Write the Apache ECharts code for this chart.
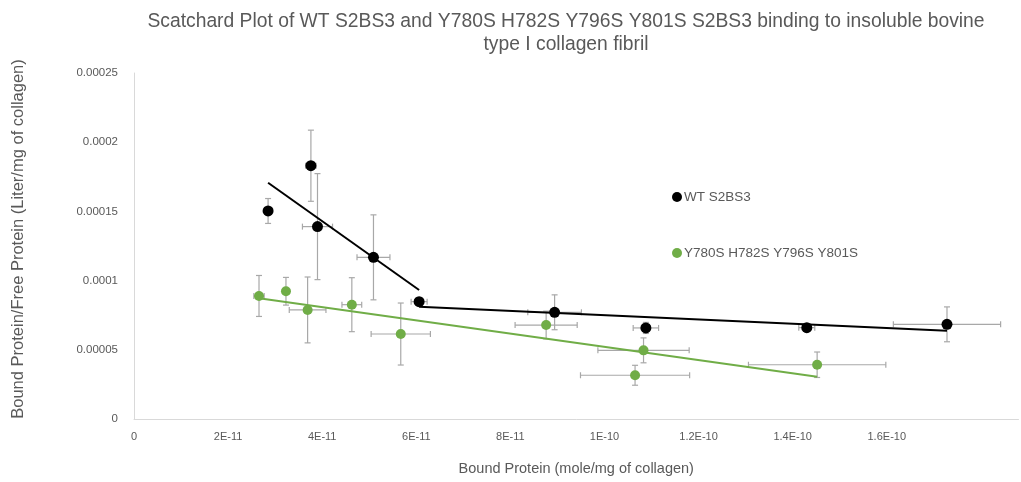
<!DOCTYPE html>
<html>
<head>
<meta charset="utf-8">
<script src="https://cdn.jsdelivr.net/npm/echarts@6/dist/echarts.min.js"></script>
<style>
  html, body { margin: 0; padding: 0; background: #ffffff; }
  #chart { width: 1021px; height: 482px; }
</style>
</head>
<body>
<div id="chart"></div>
<script>
// Tick labels
const xTickLabels = ['0', '2E-11', '4E-11', '6E-11', '8E-11', '1E-10', '1.2E-10', '1.4E-10', '1.6E-10'];
const yTickLabels = ['0', '0.00005', '0.0001', '0.00015', '0.0002', '0.00025'];

// Series names
const seriesNames = ['WT S2BS3', 'Y780S H782S Y796S Y801S'];

// WT S2BS3: bound protein (x), bound/free (y), and their error half-widths
const wtX    = [2.85e-11, 3.76e-11, 3.90e-11, 5.09e-11, 6.06e-11, 8.94e-11, 1.088e-10, 1.43e-10, 1.728e-10];
const wtY    = [1.503e-4, 1.830e-4, 1.390e-4, 1.168e-4, 8.48e-5, 7.71e-5, 6.58e-5, 6.60e-5, 6.84e-5];
const wtXErr = [0.6e-12, 1.1e-12, 3.2e-12, 3.5e-12, 1.7e-12, 5.7e-12, 2.7e-12, 1.7e-12, 1.14e-11];
const wtYErr = [9.0e-6, 2.57e-5, 3.83e-5, 3.07e-5, 2.5e-6, 1.26e-5, 4.0e-6, 2.0e-6, 1.26e-5];

// Y780S H782S Y796S Y801S mutant
const mutX    = [2.657e-11, 3.23e-11, 3.69e-11, 4.63e-11, 5.67e-11, 8.76e-11, 1.083e-10, 1.065e-10, 1.452e-10];
const mutY    = [8.89e-5, 9.23e-5, 7.88e-5, 8.26e-5, 6.14e-5, 6.79e-5, 4.96e-5, 3.16e-5, 3.92e-5];
const mutXErr = [1.1e-12, 0.5e-12, 3.9e-12, 2.1e-12, 6.3e-12, 6.6e-12, 9.7e-12, 1.16e-11, 1.46e-11];
const mutYErr = [1.48e-5, 1.0e-5, 2.38e-5, 1.95e-5, 2.24e-5, 1.0e-5, 9.0e-6, 7.2e-6, 9.2e-6];

// Linear fit segments (end points)
const wtFitHigh = [[2.85e-11, 1.707e-4], [6.06e-11, 9.32e-5]];
const wtFitLow  = [[6.06e-11, 8.11e-5], [1.728e-10, 6.38e-5]];
const mutFit    = [[2.657e-11, 8.72e-5], [1.452e-10, 3.06e-5]];

const FONT = '"Liberation Sans", Arial, sans-serif';
const TEXT = '#595959';
const BLACK = '#000000';
const GREEN = '#70ad47';
const ERR = '#a8a8a8';

function zip(xs, ys) { return xs.map((x, i) => [x, ys[i]]); }
function zipErr(xs, ys, xe, ye) { return xs.map((x, i) => [x, ys[i], xe[i], ye[i]]); }

function renderErrorBars(params, api) {
  const x = api.value(0), y = api.value(1), xe = api.value(2), ye = api.value(3);
  const c = api.coord([x, y]);
  const l = api.coord([x - xe, y]);
  const r = api.coord([x + xe, y]);
  const t = api.coord([x, y + ye]);
  const b = api.coord([x, y - ye]);
  const cap = 3;
  const style = { stroke: ERR, lineWidth: 1.2, fill: null };
  const children = [
    { type: 'line', shape: { x1: l[0], y1: c[1], x2: r[0], y2: c[1] }, style },
    { type: 'line', shape: { x1: l[0], y1: c[1] - cap, x2: l[0], y2: c[1] + cap }, style },
    { type: 'line', shape: { x1: r[0], y1: c[1] - cap, x2: r[0], y2: c[1] + cap }, style },
    { type: 'line', shape: { x1: c[0], y1: t[1], x2: c[0], y2: b[1] }, style },
    { type: 'line', shape: { x1: c[0] - cap, y1: t[1], x2: c[0] + cap, y2: t[1] }, style },
    { type: 'line', shape: { x1: c[0] - cap, y1: b[1], x2: c[0] + cap, y2: b[1] }, style }
  ];
  return { type: 'group', children };
}

const chart = echarts.init(document.getElementById('chart'));
chart.setOption({
  animation: false,
  backgroundColor: '#ffffff',
  textStyle: { fontFamily: FONT },
  graphic: [
    {
      type: 'text',
      style: {
        x: 566, y: 10.5,
        text: 'Scatchard Plot of WT S2BS3 and Y780S H782S Y796S Y801S S2BS3 binding to insoluble bovine\ntype I collagen fibril',
        align: 'center', verticalAlign: 'top', fill: TEXT, font: '19.3px ' + FONT, lineHeight: 23
      }
    },
    {
      type: 'text',
      x: 18, y: 239, rotation: Math.PI / 2,
      style: {
        x: 0, y: 0,
        text: 'Bound Protein/Free Protein (Liter/mg of collagen)',
        align: 'center', verticalAlign: 'middle', fill: TEXT, font: '16.5px ' + FONT
      }
    }
  ],
  legend: {
    data: seriesNames,
    orient: 'vertical',
    left: 672,
    top: 190,
    padding: 0,
    itemGap: 42,
    itemWidth: 10,
    itemHeight: 10,
    icon: 'circle',
    textStyle: { color: TEXT, fontSize: 13.5, fontFamily: FONT, padding: [0, 0, 0, -3] }
  },
  grid: { left: 134, top: 73, right: 2.5, bottom: 63 },
  xAxis: {
    type: 'value',
    min: 0,
    max: 1.88e-10,
    interval: 2e-11,
    name: 'Bound Protein (mole/mg of collagen)',
    nameLocation: 'middle',
    nameGap: 42,
    nameTextStyle: { color: TEXT, fontSize: 14.5, fontFamily: FONT },
    axisLine: { lineStyle: { color: '#d9d9d9', width: 1 } },
    axisTick: { show: false },
    splitLine: { show: false },
    axisLabel: {
      color: TEXT, fontSize: 11, margin: 12, showMaxLabel: false,
      formatter: v => xTickLabels[Math.round(v / 2e-11)] || ''
    }
  },
  yAxis: {
    type: 'value',
    min: 0,
    max: 2.5e-4,
    interval: 5e-5,
    axisLine: { show: true, lineStyle: { color: '#d9d9d9', width: 1 } },
    axisTick: { show: false },
    splitLine: { show: false },
    axisLabel: {
      color: TEXT, fontSize: 11.5, margin: 16,
      formatter: v => yTickLabels[Math.round(v / 5e-5)] || ''
    }
  },
  series: [
    {
      type: 'custom', name: 'wt-err', silent: true, z: 1,
      renderItem: renderErrorBars,
      encode: { x: 0, y: 1 },
      data: zipErr(wtX, wtY, wtXErr, wtYErr)
    },
    {
      type: 'custom', name: 'mut-err', silent: true, z: 1,
      renderItem: renderErrorBars,
      encode: { x: 0, y: 1 },
      data: zipErr(mutX, mutY, mutXErr, mutYErr)
    },
    {
      type: 'line', name: 'wt-fit-1', data: wtFitHigh, symbol: 'none', z: 2,
      lineStyle: { color: BLACK, width: 2 }, silent: true
    },
    {
      type: 'line', name: 'wt-fit-2', data: wtFitLow, symbol: 'none', z: 2,
      lineStyle: { color: BLACK, width: 2 }, silent: true
    },
    {
      type: 'line', name: 'mut-fit', data: mutFit, symbol: 'none', z: 2,
      lineStyle: { color: GREEN, width: 2 }, silent: true
    },
    {
      type: 'scatter', name: seriesNames[0], z: 3,
      data: zip(wtX, wtY), symbolSize: 11,
      itemStyle: { color: BLACK, opacity: 1 }
    },
    {
      type: 'scatter', name: seriesNames[1], z: 3,
      data: zip(mutX, mutY), symbolSize: 10,
      itemStyle: { color: GREEN, opacity: 1 }
    }
  ]
});
</script>
</body>
</html>
